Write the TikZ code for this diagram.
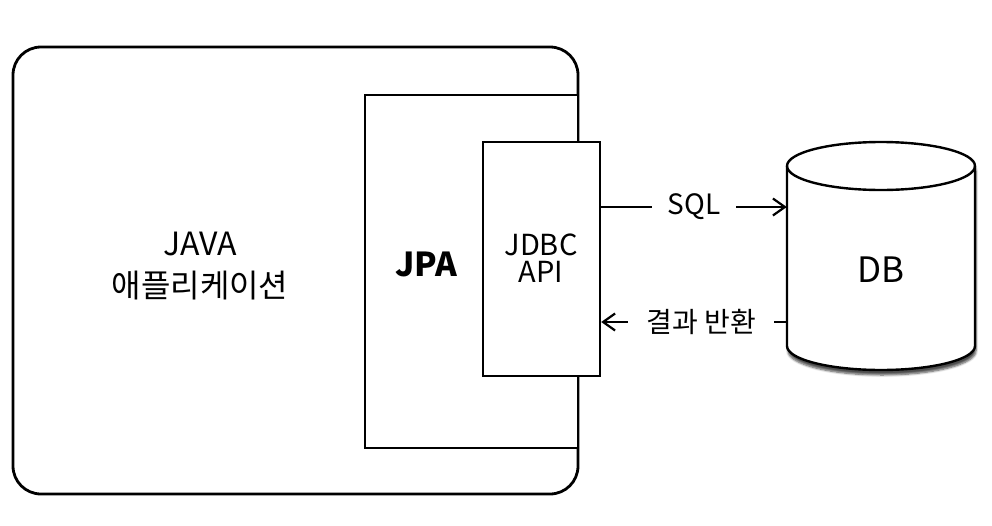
\documentclass[tikz,border=0pt]{standalone}
\usepackage{fontspec}
\setmainfont{Noto Sans CJK KR}
\usetikzlibrary{arrows.meta,shadows.blur}

\tikzset{
  boite/.style={draw, fill=white, line width=2.4pt},
  texte/.style={align=center, inner sep=0pt},
  fleche/.style={line width=2.2pt, -{Straight Barb[length=12pt,width=17pt]}},
  etiq/.style={fill=white, inner sep=0pt, minimum height=30pt, font=\fontsize{28}{30}\selectfont}
}

\begin{document}
\begin{tikzpicture}[x=1pt, y=-1pt]
	\useasboundingbox (0,0) rectangle (992,525);
	\node[boite, line width=2.8pt, rounded corners=28pt, minimum width=565pt, minimum height=447pt] (app) at (295.5,270.5) {};
	\node[boite, minimum width=213pt, minimum height=353pt] (jpa) at (471.5,271.5) {};
	\node[boite, minimum width=117pt, minimum height=234pt] (jdbc) at (541.5,259) {};
	\node[minimum width=188pt, minimum height=228pt, inner sep=0pt] (db) at (881,256) {};
	%cylindre
	\draw[boite, blur shadow={shadow xshift=1pt, shadow yshift=-5pt, shadow opacity=70, shadow blur steps=6}]
		(787,166) -- (787,346) arc[start angle=180, end angle=360, x radius=94pt, y radius=24pt]
		-- (975,166) arc[start angle=0, end angle=180, x radius=94pt, y radius=24pt] -- cycle;
	\draw[line width=2.4pt] (787,166) arc[start angle=180, end angle=360, x radius=94pt, y radius=24pt];
	%textes
	\node[texte, font=\fontsize{32}{42}\selectfont] (javatxt) at (200,266) {JAVA\\애플리케이션};
	\node[texte, font=\bfseries\fontsize{33}{36}\selectfont] (jpatxt) at (426,264) {JPA};
	\node[texte, font=\fontsize{29}{27}\selectfont] (jdbctxt) at (541,258) {JDBC\\API};
	\node[texte, font=\fontsize{35}{40}\selectfont] (dbtxt) at (881,270) {DB};
	%fleches
	\coordinate (sqlA) at ([yshift=52pt]jdbc.east);
	\coordinate (retA) at ([yshift=-63pt]jdbc.east);
	\draw[fleche] (sqlA) -- node[etiq, minimum width=84pt] {SQL} (sqlA -| db.west);
	\draw[fleche] (retA -| db.west) -- node[etiq, pos=0.46, minimum width=146pt] {결과 반환} (retA);
\end{tikzpicture}
\end{document}
